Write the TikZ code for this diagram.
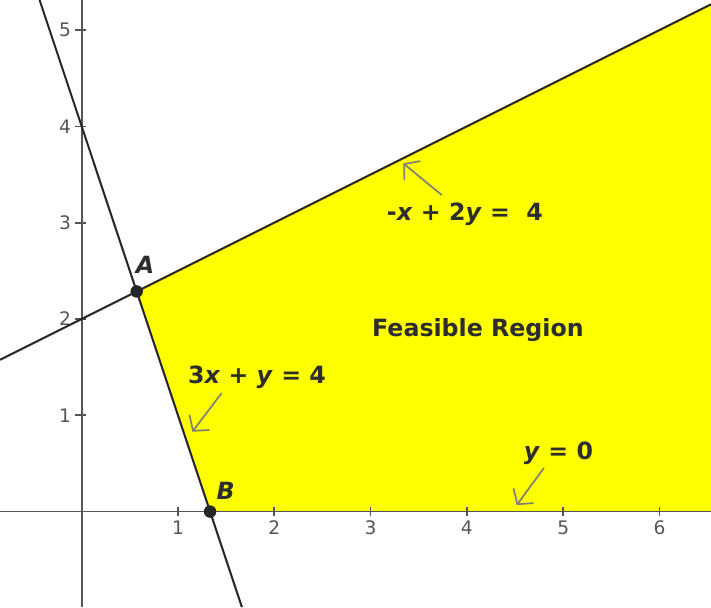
\documentclass[tikz,border=0pt]{standalone}
\usepackage{fontspec}
\setmainfont{DejaVu Sans}
\usetikzlibrary{arrows.meta,positioning}
\definecolor{regionyellow}{RGB}{255,255,0}
\definecolor{axisgray}{RGB}{85,85,85}
\definecolor{notegray}{RGB}{128,128,118}
\definecolor{textgray}{RGB}{45,45,45}
\newcommand{\vx}{\textit{x}}
\newcommand{\vy}{\textit{y}}

\begin{document}
\begin{tikzpicture}[
  axis/.style={axisgray, line width=0.5pt},
  constraint/.style={black!85, line width=0.6pt},
  ticklabel/.style={font=\fontsize{5.5}{6}\selectfont, text=axisgray, inner sep=1pt},
  eqn/.style={font=\fontsize{7}{8}\selectfont\bfseries, text=textgray, inner sep=0pt},
  note/.style={-{Straight Barb[length=1.1mm,width=2.6mm]}, notegray, line width=0.5pt},
  vertex/.style={circle, fill=black!85, inner sep=0pt, minimum size=1.3mm}
]
\useasboundingbox (-0.848,-0.992) rectangle (6.535,5.312);

\coordinate (pA) at (0.5714,2.2857);
\coordinate (pB) at (1.3333,0);
\fill[regionyellow] (pA) -- (pB) -- (6.535,0) -- (6.535,5.2675) -- cycle;

\draw[axis] (-0.848,0) -- (6.535,0);
\draw[axis] (0,-0.992) -- (0,5.312);
\foreach \i in {1,...,6} {
  \draw[axis] (\i,-0.05) -- (\i,0.05);
  \node[ticklabel] at (\i,-0.17) {\i};
}
\foreach \j in {1,...,5} {
  \draw[axis] (-0.07,\j) -- (0.04,\j);
  \node[ticklabel, anchor=east] at (-0.07,\j) {\j};
}

\draw[constraint] (-0.848,1.576) -- (6.535,5.2675);
\draw[constraint] (-0.437,5.312) -- (1.664,-0.992);

\node[vertex] (A) at (pA) {};
\node[vertex] (B) at (pB) {};
\node[eqn] (labelA) at (0.657,2.56) {\itshape A};
\node[eqn] (labelB) at (1.495,0.216) {\itshape B};

\node[eqn] (eqTop) at (3.98,3.089) {-\vx{} + 2\vy{} =~~4};
\node[eqn] (region) at (4.115,1.885) {Feasible Region};
\node[eqn] (eqSteep) at (1.82,1.397) {3\vx{} + \vy{} = 4};
\node[eqn] (eqAxis) at (4.951,0.607) {\vy{} = 0};

\coordinate (topTail) at (3.739,3.287);
\coordinate (topTip) at (3.34,3.616);
\coordinate (steepTail) at (1.454,1.231);
\coordinate (steepTip) at (1.149,0.829);
\coordinate (axisTail) at (4.80,0.452);
\coordinate (axisTip) at (4.517,0.067);

\draw[note] (topTail) -- (topTip);
\draw[note] (steepTail) -- (steepTip);
\draw[note] (axisTail) -- (axisTip);
\end{tikzpicture}
\end{document}
